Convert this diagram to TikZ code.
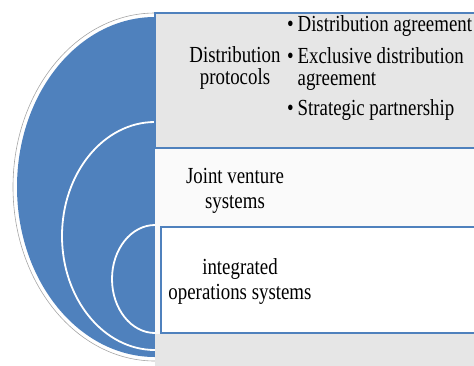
\documentclass[tikz,border=0pt]{standalone}
\usepackage{fontspec}
\setmainfont{Liberation Serif}[FakeStretch=0.82]
\usepackage{tikz}
\usetikzlibrary{positioning}
\definecolor{RingBlue}{HTML}{4F81BD}
\definecolor{PanelGray}{HTML}{E6E6E6}
\definecolor{PanelWhite}{HTML}{FAFAFA}
\definecolor{EdgeGray}{HTML}{A6A6A6}
\tikzset{
    % Ring label style
    labelnode/.style={
        align=center,
        inner sep=0pt,
        font=\fontsize{23}{25}\selectfont
    },
    % Bullet list style
    listnode/.style={
        align=left,
        inner sep=0pt,
        anchor=north west,
        font=\fontsize{23}{22.5}\selectfont
    },
    % Panel box style
    panelbox/.style={
        draw=RingBlue,
        line width=2pt
    },
    % Ring edge style
    ringline/.style={
        draw=white,
        line width=1.8pt
    }
}

\begin{document}
\begin{tikzpicture}[x=1pt,y=-1pt]
    \useasboundingbox (0,0) rectangle (474,365);

    % Rings (left halves)
    \begin{scope}
        \clip (0,0) rectangle (155,365);
        \draw[EdgeGray, line width=0.6pt] (155,187) ellipse[x radius=142, y radius=174];
        \fill[RingBlue] (155,187) ellipse[x radius=138, y radius=170];
        \draw[ringline] (155,236) ellipse[x radius=93, y radius=114];
        \draw[ringline] (155,279) ellipse[x radius=43, y radius=54];
    \end{scope}

    % Panels
    \fill[PanelWhite] (155,148) rectangle (480,334);
    \fill[PanelGray] (155,334) rectangle (480,370);
    \draw[panelbox, fill=PanelGray] (155,13) rectangle (480,148);
    \draw[panelbox, fill=white] (161,227) rectangle (480,333);

    % Labels
    \node[labelnode, font=\fontsize{23}{22}\selectfont] (dist) at (235,67.5) {Distribution\\protocols};
    \node[listnode] (distlist) at (287,15.8) {\textbullet\,Distribution agreement\\[9pt]
        \textbullet\,Exclusive distribution\\
        \hphantom{\textbullet\,}agreement\\[7.5pt]
        \textbullet\,Strategic partnership};
    \node[labelnode] (joint) at (235,191) {Joint venture\\systems};
    \node[labelnode] (integ) at (240,281) {integrated\\operations systems};
\end{tikzpicture}
\end{document}
